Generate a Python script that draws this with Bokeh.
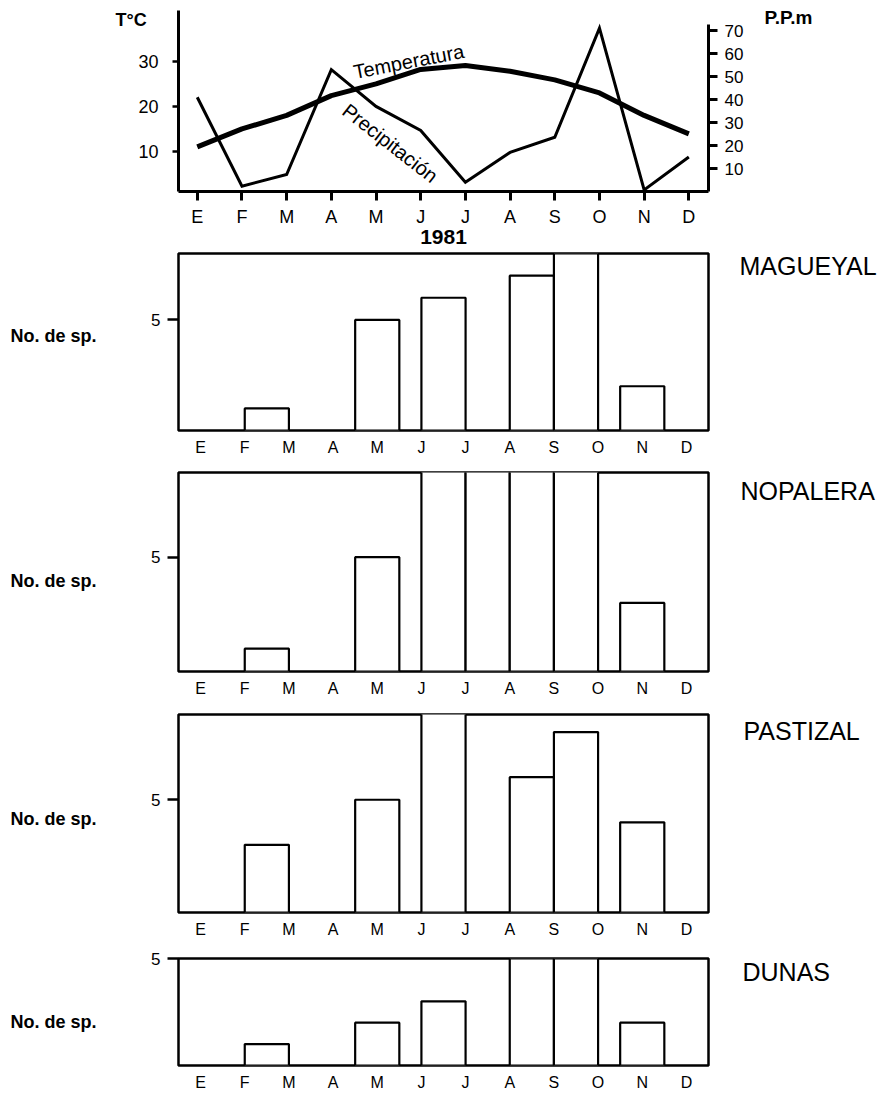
from bokeh.plotting import figure
from bokeh.models import Range1d, LinearAxis, FixedTicker, Label, GridBox
from bokeh.layouts import column
from bokeh.embed import file_html
from bokeh.resources import INLINE

# ---------------- data ----------------
months = ["E", "F", "M", "A", "M", "J", "J", "A", "S", "O", "N", "D"]
temperature = [11.0, 15.0, 18.0, 22.4, 25.0, 28.2, 29.1, 27.8, 25.9, 23.0, 18.0, 13.9]
precipitation = [41, 2.3, 7.4, 53, 37, 26.5, 4, 17, 23.6, 71, 0.7, 15]
temp_ticks = [10, 20, 30]
prec_ticks = [10, 20, 30, 40, 50, 60, 70]

# bars: start / end (in month positions) and number of species
mag_start = [1, 3.5, 5, 7, 8, 9.5]
mag_end = [2, 4.5, 6, 8, 9, 10.5]
mag_count = [1, 5, 6, 7, 8, 2]

nop_start = [1, 3.5, 5, 6, 7, 8, 9.5]
nop_end = [2, 4.5, 6, 7, 8, 9, 10.5]
nop_count = [1, 5, 9, 9, 9, 9, 3]

pas_start = [1, 3.5, 5, 7, 8, 9.5]
pas_end = [2, 4.5, 6, 8, 9, 10.5]
pas_count = [3, 5, 9, 6, 8, 4]

dun_start = [1, 3.5, 5, 7, 8, 9.5]
dun_end = [2, 4.5, 6, 8, 9, 10.5]
dun_count = [1, 2, 3, 5, 5, 2]

FONT = "Liberation Sans"
month_idx = list(range(len(months)))
overrides = {i: m for i, m in enumerate(months)}


def no_minor(ax):
    ax.minor_tick_out = 0
    ax.minor_tick_in = 0


# ---------------- climate chart ----------------
p0 = figure(width=886, height=252, x_range=Range1d(-0.42, 11.44), y_range=Range1d(1.1, 41.3),
            min_border_left=174, min_border_right=178, min_border_top=10, min_border_bottom=61,
            output_backend="svg", toolbar_location=None, outline_line_color=None)
p0.grid.visible = False
p0.extra_y_ranges = {"ppm": Range1d(0, 78.7)}

ya = p0.yaxis[0]
ya.ticker = FixedTicker(ticks=temp_ticks)
ya.axis_line_width = 3
ya.major_tick_out = 6
ya.major_tick_in = 0
ya.major_tick_line_width = 2.5
no_minor(ya)
ya.major_label_standoff = 14
ya.major_label_text_font = FONT
ya.major_label_text_font_size = "18px"
ya.major_label_text_color = "black"

xa = p0.xaxis[0]
xa.ticker = FixedTicker(ticks=month_idx)
xa.major_label_overrides = overrides
xa.axis_line_width = 3
xa.major_tick_out = 9
xa.major_tick_in = 0
xa.major_tick_line_width = 3
no_minor(xa)
xa.major_label_standoff = 6
xa.major_label_text_font = FONT
xa.major_label_text_font_size = "18px"
xa.major_label_text_color = "black"
xa.axis_label = "1981"
xa.axis_label_standoff = 0
xa.axis_label_text_font = FONT
xa.axis_label_text_font_size = "21px"
xa.axis_label_text_font_style = "bold"
xa.axis_label_text_color = "black"

ra = LinearAxis(y_range_name="ppm", ticker=FixedTicker(ticks=prec_ticks), bounds=(0, 72.5))
ra.axis_line_width = 3
ra.major_tick_out = 9
ra.major_tick_in = 0
ra.major_tick_line_width = 3
no_minor(ra)
ra.major_label_standoff = 7
ra.major_label_text_font = FONT
ra.major_label_text_font_size = "17px"
ra.major_label_text_color = "black"
p0.add_layout(ra, "right")

p0.line(month_idx, temperature, line_width=5, line_color="black", line_join="round")
p0.line(month_idx, precipitation, y_range_name="ppm", line_width=3, line_color="black", line_join="miter")

p0.add_layout(Label(x=3.5, y=27.6, text="Temperatura", angle=11, angle_units="deg",
                    text_font=FONT, text_font_size="20px", text_color="black",
                    text_baseline="alphabetic"))
p0.add_layout(Label(x=3.46, y=21.6, text="Precipitación", angle=-38, angle_units="deg",
                    text_font=FONT, text_font_size="20px", text_color="black",
                    text_baseline="top"))


# ---------------- species panels ----------------
def panel(height, top, bottom, ymax, start, end, count):
    p = figure(width=886, height=height, x_range=Range1d(-0.5, 11.5), y_range=Range1d(0, ymax),
               min_border_left=178, min_border_right=174, min_border_top=top, min_border_bottom=bottom,
               output_backend="svg", toolbar_location=None)
    p.grid.visible = False
    p.outline_line_color = "black"
    p.outline_line_width = 2.5
    p.quad(left=start, right=end, bottom=0, top=count, fill_color="white",
           line_color="black", line_width=2.2)

    y = p.yaxis[0]
    y.ticker = FixedTicker(ticks=[5])
    y.axis_line_color = None
    y.major_tick_out = 11
    y.major_tick_in = 0
    y.major_tick_line_width = 2.5
    no_minor(y)
    y.major_label_standoff = 7
    y.major_label_text_font = FONT
    y.major_label_text_font_size = "17px"
    y.major_label_text_color = "black"

    x = p.xaxis[0]
    x.ticker = FixedTicker(ticks=month_idx)
    x.major_label_overrides = overrides
    x.axis_line_color = None
    x.major_tick_out = 0
    x.major_tick_in = 0
    no_minor(x)
    x.major_label_standoff = 8
    x.major_label_text_font = FONT
    x.major_label_text_font_size = "16px"
    x.major_label_text_color = "black"
    return p


p1 = panel(208, 1, 30, 8.0, mag_start, mag_end, mag_count)
p2 = panel(240, 12, 29, 8.7, nop_start, nop_end, nop_count)
p3 = panel(240, 14, 27, 8.78, pas_start, pas_end, pas_count)
p4 = panel(153, 18, 26, 5.0, dun_start, dun_end, dun_count)

charts = column(p0, p1, p2, p3, p4, spacing=0)

# ---------------- page texts (transparent overlay, page pixel coordinates) ----------------
ov = figure(width=886, height=1093, x_range=Range1d(0, 886), y_range=Range1d(1093, 0),
            min_border=0, x_axis_type=None, y_axis_type=None,
            output_backend="svg", toolbar_location=None,
            background_fill_color=None, border_fill_color=None, outline_line_color=None)
ov.grid.visible = False


def page_text(x, y, text, size, style="normal"):
    ov.add_layout(Label(x=x, y=y, text=text, text_font=FONT, text_font_size=size,
                        text_font_style=style, text_color="black", text_baseline="middle"))


page_text(115, 19, "T°C", "18px", "bold")
page_text(764, 17, "P.P.m", "19px", "bold")
for yy in (335, 580, 818, 1021):
    page_text(10, yy, "No. de sp.", "18px", "bold")
page_text(739, 265, "MAGUEYAL", "25px")
page_text(740, 490, "NOPALERA", "25px")
page_text(743, 730, "PASTIZAL", "25px")
page_text(742, 971, "DUNAS", "25px")

grid = GridBox(children=[(charts, 0, 0), (ov, 0, 0)])
open("out.html", "w").write(file_html(grid, INLINE))
